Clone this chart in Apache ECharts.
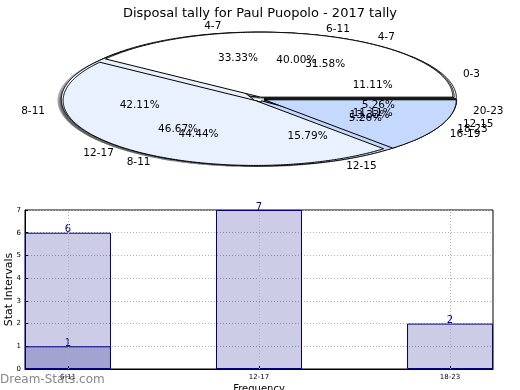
<!DOCTYPE html>
<html><head><meta charset="utf-8">
<script src="https://cdn.jsdelivr.net/npm/echarts@6/dist/echarts.min.js"></script>
<style>html,body{margin:0;padding:0;background:#fff}#c{width:520px;height:390px}</style>
</head><body><div id="c"></div>
<script>
// ---- data ----
const titleText = 'Disposal tally for Paul Puopolo - 2017 tally';
const pieLabels1 = ['0-3', '4-7', '8-11', '12-15'];
const pieValues1 = [1, 3, 4, 1];
const pieLabels3 = ['4-7', '8-11', '12-15', '16-19', '20-23'];
const pieValues3 = [6, 8, 3, 1, 1];
const pieLabels2 = ['6-11', '12-17', '18-23'];
const pieValues2 = [6, 7, 2];
const barCategories = ['6-11', '12-17', '18-23'];
const barValuesA = [6, 7, 2];
const barValuesB = [1, null, null];
const yTickValues = [0, 1, 2, 3, 4, 5, 6, 7];

// ---- pie geometry (styles) ----
const CX = 259, CY = 99, RX = 192, RY = 65, EXPLODE = 0.03;
const sliceColors = ['#ffffff', '#eaf1fe', '#c5d8fe', '#ffffff', '#eaf1fe'];
const FONT = '"DejaVu Sans", sans-serif';

function arcPoints(cx, cy, a0, a1) {
  const pts = [[cx, cy]];
  const n = Math.max(2, Math.ceil((a1 - a0) / 0.5));
  for (let i = 0; i <= n; i++) {
    const a = (a0 + (a1 - a0) * i / n) * Math.PI / 180;
    pts.push([cx + RX * Math.cos(a), cy - RY * Math.sin(a)]);
  }
  return pts;
}

function pieSeries(labels, values, layer, z) {
  const total = values.reduce((a, b) => a + b, 0);
  const starts = [];
  let acc = 0;
  values.forEach(v => { starts.push(acc); acc += v; });
  return {
    type: 'custom', coordinateSystem: 'none', silent: true, z: z,
    data: values.map((v, i) => ({ value: [v], name: labels[i] })),
    renderItem: function (params, api) {
      const i = params.dataIndex;
      const v = api.value(0);
      const a0 = starts[i] / total * 360;
      const a1 = (starts[i] + v) / total * 360;
      const mid = (a0 + a1) / 2 * Math.PI / 180;
      const ox = CX + EXPLODE * RX * Math.cos(mid);
      const oy = CY - EXPLODE * RY * Math.sin(mid);
      if (layer === 'shadow') {
        return { type: 'polygon', shape: { points: arcPoints(ox - 0.02 * RX, oy + 0.02 * RY, a0, a1) },
          style: { fill: 'rgba(77,77,77,0.5)', stroke: null } };
      }
      if (layer === 'wedge') {
        return { type: 'polygon', shape: { points: arcPoints(ox, oy, a0, a1) },
          style: { fill: sliceColors[i % sliceColors.length], stroke: '#000', lineWidth: 1, lineJoin: 'round' } };
      }
      const c = Math.cos(mid), s = Math.sin(mid);
      return { type: 'group', children: [
        { type: 'text', style: { text: (v / total * 100).toFixed(2) + '%', x: ox + 0.6 * RX * c, y: oy - 0.6 * RY * s,
          align: 'center', verticalAlign: 'middle', fill: '#000', font: '10.5px ' + FONT } },
        { type: 'text', style: { text: labels[i], x: ox + 1.1 * RX * c, y: oy - 1.1 * RY * s,
          align: c >= 0 ? 'left' : 'right', verticalAlign: 'middle', fill: '#000', font: '10.5px ' + FONT } }
      ] };
    }
  };
}

const pies = [[pieLabels1, pieValues1], [pieLabels3, pieValues3], [pieLabels2, pieValues2]];
const series = [];
pies.forEach(p => series.push(pieSeries(p[0], p[1], 'shadow', 1)));
pies.forEach(p => series.push(pieSeries(p[0], p[1], 'wedge', 2)));
pies.forEach(p => series.push(pieSeries(p[0], p[1], 'text', 3)));

// vertical dotted grid lines at the category positions
series.push({
  type: 'line', xAxisIndex: 0, yAxisIndex: 0, data: [], z: 1, silent: true,
  markLine: { silent: true, symbol: 'none', label: { show: false }, animation: false,
    lineStyle: { color: '#b0b0b0', type: [1, 2], width: 1 },
    emphasis: { disabled: true },
    data: barCategories.map((c, i) => ({ xAxis: i })) }
});

const barLabel = { show: true, position: 'top', distance: -2, color: '#000080', fontSize: 10, fontFamily: FONT };
series.push({
  type: 'bar', xAxisIndex: 0, yAxisIndex: 0, barWidth: 86, barGap: '-100%', z: 2,
  data: barValuesA.map((v, i) => [i, v]),
  itemStyle: { color: 'rgba(0,0,128,0.2)', borderColor: '#000080', borderWidth: 1 },
  label: barLabel
});
series.push({
  type: 'bar', xAxisIndex: 0, yAxisIndex: 0, barWidth: 86, barGap: '-100%', z: 2,
  data: barValuesB.map((v, i) => [i, v]),
  itemStyle: { color: 'rgba(0,0,128,0.2)', borderColor: '#000080', borderWidth: 1 },
  label: barLabel
});

const chart = echarts.init(document.getElementById('c'), null, { renderer: 'canvas' });
chart.setOption({
  animation: false,
  backgroundColor: '#fff',
  textStyle: { fontFamily: FONT },
  title: { text: titleText, left: 'center', top: 2,
    textStyle: { fontSize: 13, fontWeight: 'normal', color: '#000', fontFamily: FONT } },
  graphic: [{ type: 'text', left: 0, top: 374, z: 100,
    style: { text: 'Dream-Stats.com', fill: '#888888', font: '12px ' + FONT } }],
  grid: { left: 25, right: 27, top: 210, bottom: 21, show: true, borderColor: '#000', borderWidth: 1,
    backgroundColor: 'transparent', containLabel: false, outerBoundsMode: 'none' },
  xAxis: {
    type: 'value', min: -0.225, max: 2.225,
    name: 'Frequency', nameLocation: 'middle', nameGap: 15, nameMoveOverlap: false,
    nameTextStyle: { fontSize: 10, color: '#000', fontFamily: FONT },
    axisLine: { show: true, onZero: false, lineStyle: { color: '#000' } },
    axisTick: { show: true, inside: true, length: 3, customValues: [0, 1, 2], lineStyle: { color: '#000' } },
    axisLabel: { customValues: [0, 1, 2], formatter: v => barCategories[Math.round(v)] || '', fontSize: 7, color: '#000', margin: 5 },
    splitLine: { show: false }
  },
  yAxis: {
    type: 'value', min: yTickValues[0], max: yTickValues[yTickValues.length - 1], interval: 1,
    name: 'Stat Intervals', nameLocation: 'middle', nameGap: 10, nameMoveOverlap: false,
    nameTextStyle: { fontSize: 11, color: '#000', fontFamily: FONT },
    axisLine: { show: true, onZero: false, lineStyle: { color: '#000' } },
    axisTick: { show: true, inside: true, length: 3, lineStyle: { color: '#000' } },
    axisLabel: { fontSize: 7, color: '#000', margin: 4 },
    splitLine: { show: true, lineStyle: { color: '#b0b0b0', type: [1, 2] } }
  },
  series: series
});
</script></body></html>
